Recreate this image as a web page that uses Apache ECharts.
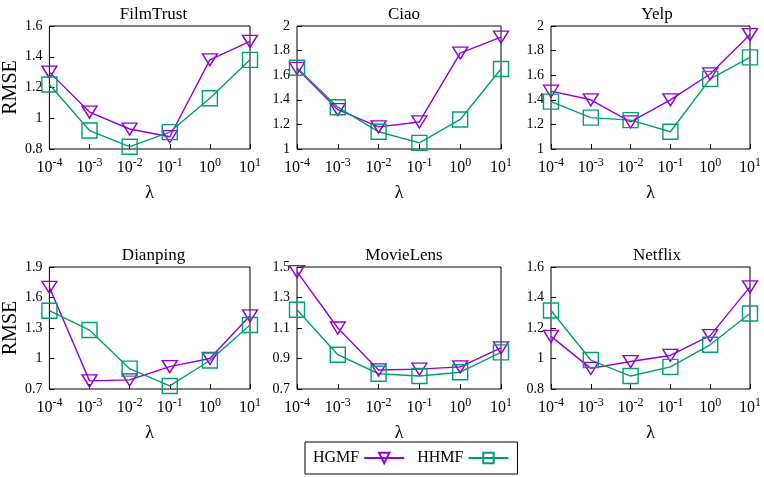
<!DOCTYPE html>
<html>
<head>
<meta charset="utf-8">
<script src="https://cdn.jsdelivr.net/npm/echarts@6/dist/echarts.min.js"></script>
<style>html,body{margin:0;padding:0;background:#fff;}#c{width:764px;height:477px;}</style>
</head>
<body>
<div id="c"></div>
<script>
// ---- data ----
const lambdaExp = [-4, -3, -2, -1, 0, 1];
const datasets = ['FilmTrust', 'Ciao', 'Yelp', 'Dianping', 'MovieLens', 'Netflix'];
const seriesNames = ['HGMF', 'HHMF'];

const hgmfFilmTrust = [1.30, 1.04, 0.93, 0.88, 1.38, 1.50];
const hhmfFilmTrust = [1.22, 0.92, 0.815, 0.91, 1.13, 1.38];
const hgmfCiao = [1.655, 1.32, 1.18, 1.22, 1.78, 1.91];
const hhmfCiao = [1.66, 1.34, 1.14, 1.05, 1.24, 1.65];
const hgmfYelp = [1.47, 1.40, 1.22, 1.40, 1.61, 1.93];
const hhmfYelp = [1.385, 1.255, 1.235, 1.14, 1.57, 1.745];
const hgmfDianping = [1.70, 0.78, 0.79, 0.92, 1.00, 1.42];
const hhmfDianping = [1.47, 1.28, 0.90, 0.73, 0.98, 1.33];
const hgmfMovieLens = [1.47, 1.10, 0.825, 0.83, 0.845, 0.97];
const hhmfMovieLens = [1.22, 0.925, 0.80, 0.785, 0.81, 0.94];
const hgmfNetflix = [1.145, 0.935, 0.98, 1.02, 1.15, 1.47];
const hhmfNetflix = [1.315, 0.99, 0.885, 0.945, 1.09, 1.295];

const yTicksFilmTrust = [0.8, 1, 1.2, 1.4, 1.6];
const yTicksCiao = [1, 1.2, 1.4, 1.6, 1.8, 2];
const yTicksYelp = [1, 1.2, 1.4, 1.6, 1.8, 2];
const yTicksDianping = [0.7, 1, 1.3, 1.6, 1.9];
const yTicksMovieLens = [0.7, 0.9, 1.1, 1.3, 1.5];
const yTicksNetflix = [0.8, 1, 1.2, 1.4, 1.6];

const hgmfAll = [hgmfFilmTrust, hgmfCiao, hgmfYelp, hgmfDianping, hgmfMovieLens, hgmfNetflix];
const hhmfAll = [hhmfFilmTrust, hhmfCiao, hhmfYelp, hhmfDianping, hhmfMovieLens, hhmfNetflix];
const yTicksAll = [yTicksFilmTrust, yTicksCiao, yTicksYelp, yTicksDianping, yTicksMovieLens, yTicksNetflix];

// ---- layout / style ----
const FONT = '"Liberation Serif", "DejaVu Serif", serif';
const PURPLE = '#9400D3';
const GREEN = '#009E73';
const cols = [{left: 47, width: 203}, {left: 297, width: 204}, {left: 551, width: 202}];
const rows = [{top: 26, height: 123}, {top: 267, height: 122}];

const grids = [], xAxes = [], yAxes = [], series = [], titles = [];
for (let i = 0; i < 6; i++) {
  const c = cols[i % 3], r = rows[Math.floor(i / 3)];
  grids.push({left: c.left, top: r.top, width: c.width, height: r.height,
    show: true, borderColor: '#000', borderWidth: 1, backgroundColor: 'transparent'});
  titles.push({text: datasets[i], left: c.left + c.width / 2, top: r.top - 25, textAlign: 'center',
    textStyle: {fontFamily: FONT, fontSize: 17, fontWeight: 'normal', color: '#000'}});
  xAxes.push({type: 'value', gridIndex: i, min: -4, max: 1, interval: 1,
    name: 'λ', nameLocation: 'middle', nameGap: 35,
    nameTextStyle: {fontFamily: FONT, fontSize: 18, color: '#000'},
    axisLine: {show: false, onZero: false}, splitLine: {show: false},
    axisTick: {inside: true, length: 5, lineStyle: {color: '#000'}},
    axisLabel: {margin: 8, color: '#000', fontFamily: FONT, fontSize: 16,
      formatter: v => '10{sup|' + (v < 0 ? '-' + (-v) : v) + '}',
      rich: {sup: {fontFamily: FONT, fontSize: 12, color: '#000', padding: [0, 0, 9, 0]}}}});
  const t = yTicksAll[i];
  yAxes.push({type: 'value', gridIndex: i, min: t[0], max: t[t.length - 1],
    name: i % 3 === 0 ? 'RMSE' : '', nameLocation: 'middle', nameGap: 22, nameRotate: 90,
    nameTextStyle: {fontFamily: FONT, fontSize: 20, color: '#000'},
    axisLine: {show: false, onZero: false}, splitLine: {show: false},
    axisTick: {inside: true, length: 5, customValues: t, lineStyle: {color: '#000'}},
    axisLabel: {customValues: t, margin: 7, color: '#000', fontFamily: FONT, fontSize: 14}});
  series.push({name: seriesNames[0], type: 'line', xAxisIndex: i, yAxisIndex: i,
    data: lambdaExp.map((x, k) => [x, hgmfAll[i][k]]),
    symbol: 'triangle', symbolRotate: 180, symbolSize: [15, 12],
    lineStyle: {color: PURPLE, width: 1.4},
    itemStyle: {color: 'rgba(255,255,255,0)', borderColor: PURPLE, borderWidth: 1.4},
    emphasis: {disabled: true}, animation: false});
  series.push({name: seriesNames[1], type: 'line', xAxisIndex: i, yAxisIndex: i,
    data: lambdaExp.map((x, k) => [x, hhmfAll[i][k]]),
    symbol: 'rect', symbolSize: 15,
    lineStyle: {color: GREEN, width: 1.4},
    itemStyle: {color: 'rgba(255,255,255,0)', borderColor: GREEN, borderWidth: 1.4},
    emphasis: {disabled: true}, animation: false});
}

const chart = echarts.init(document.getElementById('c'), null, {renderer: 'canvas'});
chart.setOption({
  backgroundColor: '#fff',
  animation: false,
  title: titles,
  grid: grids, xAxis: xAxes, yAxis: yAxes, series: series,
  legend: {data: seriesNames, left: 305, top: 442, align: 'right',
    itemWidth: 40, itemHeight: 13, itemGap: 12,
    borderColor: '#000', borderWidth: 1, padding: [8, 8, 8, 8],
    textStyle: {fontFamily: FONT, fontSize: 16, color: '#000'}}
});
</script>
</body>
</html>
